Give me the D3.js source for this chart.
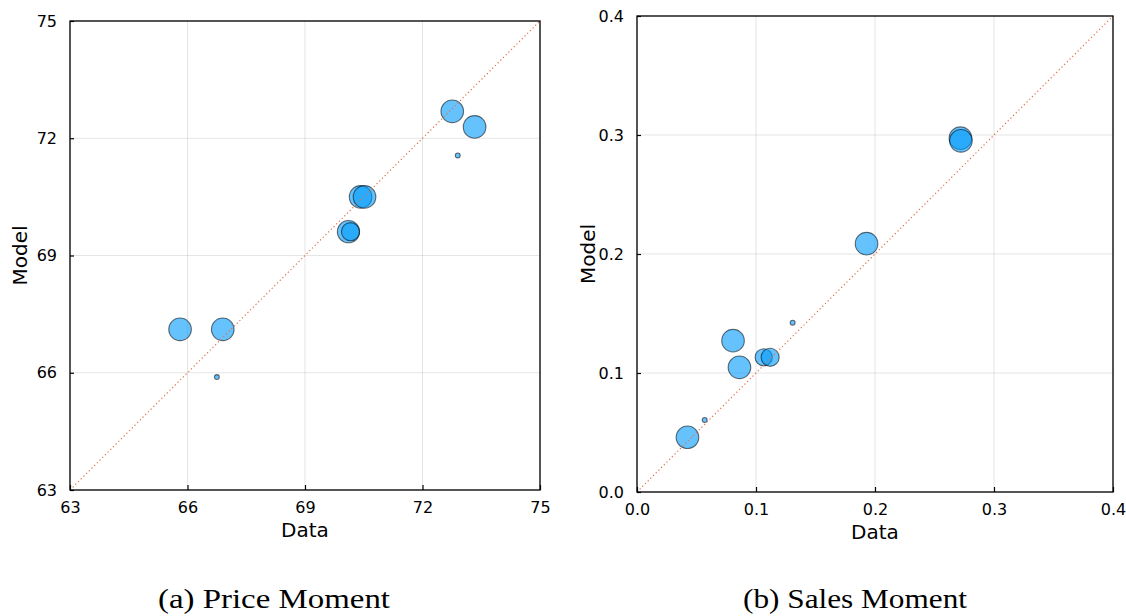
<!DOCTYPE html>
<html>
<head>
<meta charset="utf-8">
<script src="https://cdn.jsdelivr.net/npm/d3@7"></script>
<style>
  html, body { margin: 0; padding: 0; background: #fff; }
  svg { display: block; }
</style>
</head>
<body>
<svg id="chart" width="1126" height="616"></svg>
<script>
// Price moment: data vs. model, with a relative weight per moment
const priceData   = [65.81, 66.90, 66.75, 70.11, 70.16, 70.42, 70.52, 72.76, 73.33, 72.90];
const priceModel  = [67.11, 67.11, 65.89, 69.61, 69.61, 70.50, 70.50, 72.69, 72.29, 71.56];
const priceWeight = [1.0,   1.0,   0.047, 0.97,  0.64,  1.0,   1.0,   1.0,   1.0,   0.047];
const priceTicks  = [63, 66, 69, 72, 75];

// Sales moment: data vs. model, with a relative weight per moment
const salesData   = [0.0424, 0.0569, 0.0807, 0.0861, 0.1065, 0.1119, 0.1308, 0.1929, 0.2718, 0.2722];
const salesModel  = [0.0460, 0.0605, 0.1272, 0.1048, 0.1132, 0.1132, 0.1423, 0.2087, 0.2973, 0.2951];
const salesWeight = [1.0,    0.047,  1.0,    1.0,    0.58,   0.64,   0.047,  1.0,    1.0,    1.0];
const salesTicks  = [0.0, 0.1, 0.2, 0.3, 0.4];

const captions = ["(a) Price Moment", "(b) Sales Moment"];

const svg = d3.select("#chart");
const rScale = d3.scaleSqrt().domain([0, 1]).range([0, 11.3]);

function panel(cfg) {
  const { box, xs, ys, w, ticks, fmt, caption } = cfg;
  const [x0, y0, x1, y1] = box;
  const lo = ticks[0], hi = ticks[ticks.length - 1];
  const x = d3.scaleLinear().domain([lo, hi]).range([x0, x1]);
  const y = d3.scaleLinear().domain([lo, hi]).range([y1, y0]);

  const g = svg.append("g");

  // grid
  g.append("g").selectAll("line").data(ticks).join("line")
    .attr("x1", d => x(d)).attr("x2", d => x(d))
    .attr("y1", y0).attr("y2", y1)
    .attr("stroke", "#000").attr("stroke-opacity", 0.1).attr("stroke-width", 1);
  g.append("g").selectAll("line").data(ticks).join("line")
    .attr("y1", d => y(d)).attr("y2", d => y(d))
    .attr("x1", x0).attr("x2", x1)
    .attr("stroke", "#000").attr("stroke-opacity", 0.1).attr("stroke-width", 1);

  // markers
  const pts = xs.map((v, i) => ({ dx: v, my: ys[i], w: w[i] }));
  g.append("g").selectAll("circle").data(pts).join("circle")
    .attr("cx", d => x(d.dx)).attr("cy", d => y(d.my))
    .attr("r", d => rScale(d.w))
    .attr("fill", "#009AFA").attr("fill-opacity", 0.6)
    .attr("stroke", "#000").attr("stroke-opacity", 0.55).attr("stroke-width", 1.1);

  // 45-degree reference line
  g.append("line")
    .attr("x1", x(lo)).attr("y1", y(lo)).attr("x2", x(hi)).attr("y2", y(hi))
    .attr("stroke", "#E26F46").attr("stroke-width", 1.2)
    .attr("stroke-dasharray", "1.2,2.6");

  // axes with inward ticks
  const ax = g.append("g").attr("transform", `translate(0,${y1})`)
    .call(d3.axisBottom(x).tickValues(ticks).tickFormat(fmt).tickSizeInner(-5).tickSizeOuter(0).tickPadding(12));
  const ay = g.append("g").attr("transform", `translate(${x0},0)`)
    .call(d3.axisLeft(y).tickValues(ticks).tickFormat(fmt).tickSizeInner(-4).tickSizeOuter(0).tickPadding(13));
  [ax, ay].forEach(a => {
    a.attr("font-family", "DejaVu Sans, sans-serif").attr("font-size", 16);
    a.select(".domain").remove();
    a.selectAll(".tick line").attr("stroke", "#000").attr("stroke-width", 1.2);
    a.selectAll(".tick text").attr("fill", "#000");
  });

  // frame
  g.append("rect")
    .attr("x", x0).attr("y", y0).attr("width", x1 - x0).attr("height", y1 - y0)
    .attr("fill", "none").attr("stroke", "#000").attr("stroke-width", 1.3);

  // axis titles
  g.append("text")
    .attr("x", (x0 + x1) / 2).attr("y", cfg.xTitleY)
    .attr("text-anchor", "middle")
    .attr("font-family", "DejaVu Sans, sans-serif").attr("font-size", 20)
    .text("Data");
  g.append("text")
    .attr("transform", `translate(${cfg.yTitleX},${(y0 + y1) / 2}) rotate(-90)`)
    .attr("text-anchor", "middle")
    .attr("font-family", "DejaVu Sans, sans-serif").attr("font-size", 20)
    .text("Model");

  // caption
  g.append("text")
    .attr("x", cfg.capX).attr("y", 608)
    .attr("text-anchor", "middle")
    .attr("font-family", "Liberation Serif, serif").attr("font-size", 28)
    .attr("textLength", cfg.capW).attr("lengthAdjust", "spacingAndGlyphs")
    .text(caption);
}

panel({
  box: [70, 21, 540, 490], xs: priceData, ys: priceModel, w: priceWeight,
  ticks: priceTicks, fmt: d3.format("d"), caption: captions[0],
  xTitleY: 537, yTitleX: 27, capX: 274, capW: 232
});

panel({
  box: [637, 16, 1113, 492], xs: salesData, ys: salesModel, w: salesWeight,
  ticks: salesTicks, fmt: d3.format(".1f"), caption: captions[1],
  xTitleY: 539, yTitleX: 595, capX: 855, capW: 224
});
</script>
</body>
</html>
